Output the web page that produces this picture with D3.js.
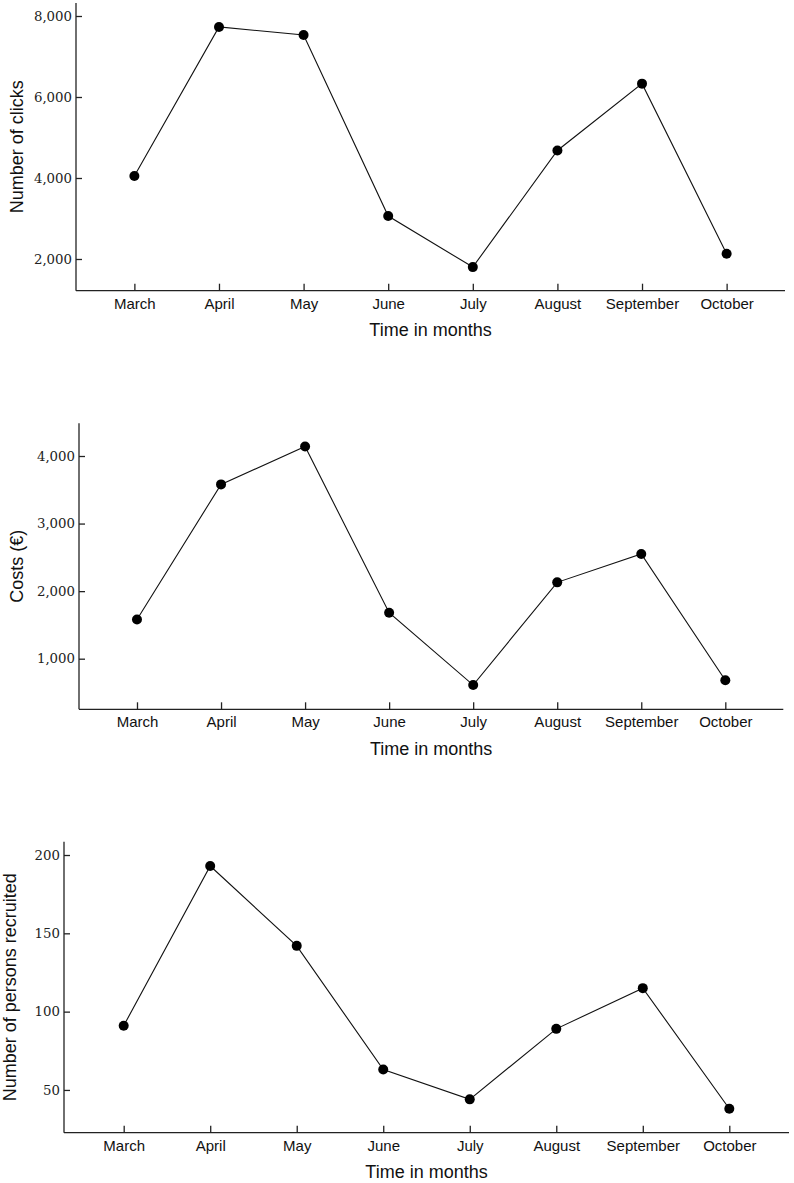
<!DOCTYPE html>
<meta charset="utf-8">
<head>
    <style>
        body { margin: 0; background: #fff; }
    </style>
</head>
<body>
    <div id="chart"></div>

    <script src="https://cdn.jsdelivr.net/npm/d3@7"></script>
    <script>
        // data
        let months = ['March', 'April', 'May', 'June', 'July', 'August', 'September', 'October'];
        let clicks = [4050, 7730, 7530, 3060, 1800, 4680, 6330, 2130];
        let costs = [1580, 3580, 4140, 1680, 610, 2130, 2550, 680];
        let recruited = [91, 193, 142, 63, 44, 89, 115, 38];

        let clickTicks = [2000, 4000, 6000, 8000];
        let costTicks = [1000, 2000, 3000, 4000];
        let recruitTicks = [50, 100, 150, 200];

        let xTitle = 'Time in months';

        // one entry per panel: where it sits on the page
        let panels = [
            {values: clicks, ticks: clickTicks, title: 'Number of clicks',
             left: 76, right: 785, top: 3, bottom: 290.7, domain: [1217, 8321], titleX: 22.7},
            {values: costs, ticks: costTicks, title: 'Costs (€)',
             left: 79, right: 783.3, top: 423.3, bottom: 709.3, domain: [251, 4484], titleX: 22.7},
            {values: recruited, ticks: recruitTicks, title: 'Number of persons recruited',
             left: 64, right: 789, top: 841.7, bottom: 1132.7, domain: [22.7, 208.5], titleX: 16}
        ];

        let svg = d3.select('#chart')
                    .append('svg')
                    .attr('width', 794)
                    .attr('height', 1183);

        panels.forEach(p => {
            let x = d3.scalePoint()
                        .domain(months)
                        .range([p.left, p.right])
                        .padding(0.69);
            let y = d3.scaleLinear()
                        .domain(p.domain)
                        .range([p.bottom, p.top]);

            let g = svg.append('g');

            // x axis (ticks point inward)
            let xa = g.append('g')
                        .attr('transform', `translate(0, ${p.bottom})`)
                        .call(d3.axisBottom(x).tickSize(-7).tickSizeOuter(0).tickPadding(7.5));
            xa.selectAll('text')
                .attr('font-family', 'Liberation Sans, Arial, sans-serif')
                .attr('font-size', 15)
                .attr('fill', '#111');

            // y axis
            let ya = g.append('g')
                        .attr('transform', `translate(${p.left}, 0)`)
                        .call(d3.axisLeft(y).tickValues(p.ticks).tickFormat(d3.format(','))
                                .tickSize(-6).tickSizeOuter(0).tickPadding(4));
            ya.selectAll('text')
                .attr('font-family', 'DejaVu Serif, serif')
                .attr('font-size', 13.3)
                .attr('fill', '#222');

            g.selectAll('.domain, .tick line')
                .attr('stroke', '#222')
                .attr('stroke-width', 1.3);
            // axes only span the plot box, no outer ticks
            xa.select('.domain').attr('d', `M${p.left},0H${p.right}`);
            ya.select('.domain').attr('d', `M0,${p.bottom}V${p.top}`);

            // titles
            g.append('text')
                .attr('x', (p.left + p.right) / 2)
                .attr('y', p.bottom + 45.5)
                .attr('text-anchor', 'middle')
                .attr('font-family', 'Liberation Sans, Arial, sans-serif')
                .attr('font-size', 18)
                .attr('fill', '#111')
                .text(xTitle);

            g.append('text')
                .attr('transform', `translate(${p.titleX}, ${(p.top + p.bottom) / 2}) rotate(-90)`)
                .attr('text-anchor', 'middle')
                .attr('font-family', 'Liberation Sans, Arial, sans-serif')
                .attr('font-size', 18)
                .attr('fill', '#111')
                .text(p.title);

            // line + dots
            let line = d3.line()
                        .x((d, i) => x(months[i]))
                        .y(d => y(d));

            g.append('path')
                .datum(p.values)
                .attr('d', line)
                .attr('fill', 'none')
                .attr('stroke', '#111')
                .attr('stroke-width', 1.1);

            g.selectAll('circle')
                .data(p.values)
                .enter()
                .append('circle')
                .attr('cx', (d, i) => x(months[i]))
                .attr('cy', d => y(d))
                .attr('r', 5)
                .attr('fill', '#000');
        });
    </script>
</body>
